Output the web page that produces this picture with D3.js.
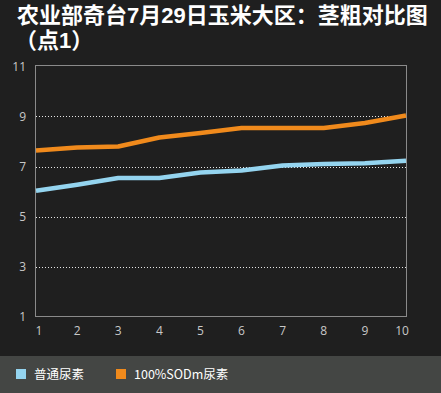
<!DOCTYPE html>
<html><head><meta charset="utf-8">
<script src="https://cdn.jsdelivr.net/npm/d3@7"></script>
<style>
html,body{margin:0;padding:0;background:#1f1f1f;}
svg{display:block;}
</style></head>
<body>
<svg id="c" width="441" height="393"></svg>
<script>
const titleLines = ["农业部奇台7月29日玉米大区：茎粗对比图", "（点1）"];
const categories = [1,2,3,4,5,6,7,8,9,10];
const seriesNames = ["普通尿素", "100%SODm尿素"];
const seriesColors = ["#94d4ef", "#f08a1c"];
const normalUrea = [6.03, 6.27, 6.54, 6.54, 6.76, 6.84, 7.04, 7.1, 7.13, 7.23];
const sodUrea = [7.64, 7.76, 7.8, 8.16, 8.34, 8.54, 8.54, 8.54, 8.74, 9.04];
const yTicks = [1,3,5,7,9,11];
const gridTicks = [3,5,7,9];

const svg = d3.select("#c");
svg.append("rect").attr("width",441).attr("height",393).attr("fill","#1f1f1f");

const tf = "'Liberation Sans', 'Noto Sans CJK SC', sans-serif";
svg.append("text").attr("x",17).attr("y",22.5).attr("fill","#ffffff")
  .attr("font-family",tf).attr("font-weight","bold").attr("font-size",22)
  .text(titleLines[0]);
svg.append("text").attr("x",15).attr("y",47.5).attr("fill","#ffffff")
  .attr("font-family",tf).attr("font-weight","bold").attr("font-size",22)
  .text(titleLines[1]);

const x = d3.scaleLinear().domain([1,10]).range([36,406]);
const y = d3.scaleLinear().domain([1,11]).range([316.5,66.5]);

const g = svg.append("g");
g.selectAll("line.grid").data(gridTicks).join("line")
  .attr("x1",36).attr("x2",406)
  .attr("y1",d=>Math.round(y(d))+0.5).attr("y2",d=>Math.round(y(d))+0.5)
  .attr("stroke","#e6e6e6").attr("stroke-width",1).attr("stroke-dasharray","1,2");

g.append("rect").attr("x",35.5).attr("y",65.5).attr("width",371).attr("height",251)
  .attr("fill","none").attr("stroke","#8a8a8a").attr("stroke-width",1);

const lf = "'Open Sans', 'Liberation Sans', sans-serif";
g.selectAll("text.yl").data(yTicks).join("text")
  .attr("x",26).attr("y",d=>y(d)+4.5).attr("text-anchor","end")
  .attr("fill","#c8c8c8").attr("font-family",lf).attr("font-size",12)
  .text(d=>d);
g.selectAll("text.xl").data(categories).join("text")
  .attr("x",(d,i)=> i===0 ? x(d)+3 : (i===categories.length-1 ? x(d)-4 : x(d)))
  .attr("y",334.5).attr("text-anchor","middle")
  .attr("fill","#c8c8c8").attr("font-family",lf).attr("font-size",12)
  .text(d=>d);

const line = d3.line().x((d,i)=>x(categories[i])).y(d=>y(d));
[normalUrea, sodUrea].forEach((s,k)=>{
  g.append("path").attr("d",line(s)).attr("fill","none")
    .attr("stroke",seriesColors[k]).attr("stroke-width",4.5)
    .attr("stroke-linejoin","round");
});

svg.append("rect").attr("x",0).attr("y",356).attr("width",441).attr("height",37).attr("fill","#444644");
const legX = [16, 116];
seriesNames.forEach((n,k)=>{
  svg.append("rect").attr("x",legX[k]).attr("y",369).attr("width",10).attr("height",10).attr("fill",seriesColors[k]);
  svg.append("text").attr("x",legX[k]+18).attr("y",378.5).attr("fill","#ffffff")
    .attr("font-family","'Noto Sans CJK SC', sans-serif").attr("font-size",12.5).text(n);
});
</script>
</body></html>
